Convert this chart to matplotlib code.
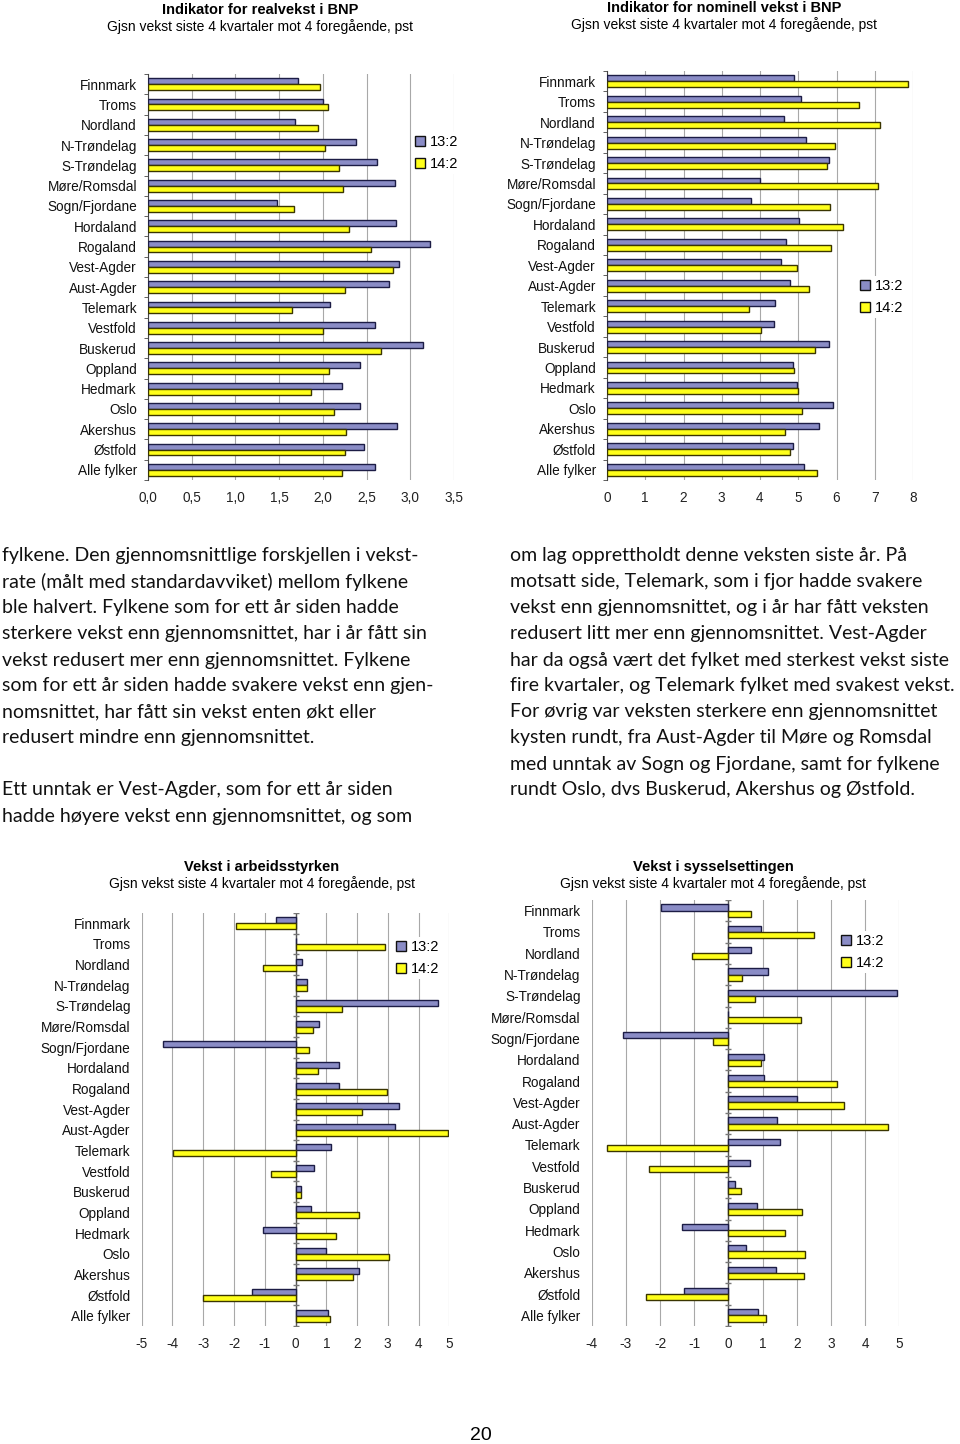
import numpy as np
import matplotlib
matplotlib.use("Agg")
import matplotlib.pyplot as plt
from matplotlib.patches import Patch

# --- Data ---
fylker = ["Finnmark", "Troms", "Nordland", "N-Trøndelag", "S-Trøndelag",
          "Møre/Romsdal", "Sogn/Fjordane", "Hordaland", "Rogaland", "Vest-Agder",
          "Aust-Agder", "Telemark", "Vestfold", "Buskerud", "Oppland", "Hedmark",
          "Oslo", "Akershus", "Østfold", "Alle fylker"]

series_names = ["13:2", "14:2"]

real_13 = [1.71, 2.00, 1.68, 2.38, 2.62, 2.82, 1.47, 2.84, 3.23, 2.87,
           2.76, 2.08, 2.60, 3.15, 2.43, 2.22, 2.42, 2.85, 2.47, 2.60]
real_14 = [1.97, 2.06, 1.94, 2.02, 2.18, 2.23, 1.67, 2.30, 2.55, 2.80,
           2.25, 1.65, 2.00, 2.66, 2.07, 1.87, 2.13, 2.27, 2.25, 2.22]

nom_13 = [4.90, 5.06, 4.62, 5.20, 5.81, 4.00, 3.77, 5.02, 4.67, 4.54,
          4.78, 4.38, 4.37, 5.81, 4.85, 4.97, 5.90, 5.53, 4.85, 5.14]
nom_14 = [7.88, 6.60, 7.15, 5.95, 5.75, 7.08, 5.84, 6.17, 5.86, 4.98,
          5.27, 3.70, 4.03, 5.45, 4.90, 5.00, 5.11, 4.65, 4.78, 5.49]

arb_13 = [-0.64, 0.0, 0.21, 0.37, 4.63, 0.75, -4.30, 1.41, 1.42, 3.35,
          3.25, 1.15, 0.61, 0.18, 0.52, -1.05, 1.00, 2.07, -1.40, 1.06]
arb_14 = [-1.93, 2.90, -1.05, 0.37, 1.52, 0.56, 0.44, 0.74, 2.99, 2.17,
          4.97, -3.98, -0.80, 0.18, 2.08, 1.33, 3.05, 1.88, -3.02, 1.11]

sys_13 = [-1.97, 0.94, 0.65, 1.17, 4.94, 0.0, -3.09, 1.05, 1.03, 2.01,
          1.43, 1.50, 0.64, 0.18, 0.83, -1.35, 0.51, 1.38, -1.29, 0.86]
sys_14 = [0.67, 2.49, -1.07, 0.39, 0.79, 2.11, -0.46, 0.96, 3.19, 3.37,
          4.68, -3.54, -2.32, 0.37, 2.16, 1.67, 2.25, 2.20, -2.42, 1.11]

subtitle = "Gjsn vekst siste 4 kvartaler mot 4 foregående, pst"

left_text = [
    "fylkene. Den gjennomsnittlige forskjellen i vekst-",
    "rate (målt med standardavviket) mellom fylkene",
    "ble halvert. Fylkene som for ett år siden hadde",
    "sterkere vekst enn gjennomsnittet, har i år fått sin",
    "vekst redusert mer enn gjennomsnittet. Fylkene",
    "som for ett år siden hadde svakere vekst enn gjen-",
    "nomsnittet, har fått sin vekst enten økt eller",
    "redusert mindre enn gjennomsnittet.",
    "",
    "Ett unntak er Vest-Agder, som for ett år siden",
    "hadde høyere vekst enn gjennomsnittet, og som",
]
right_text = [
    "om lag opprettholdt denne veksten siste år. På",
    "motsatt side, Telemark, som i fjor hadde svakere",
    "vekst enn gjennomsnittet, og i år har fått veksten",
    "redusert litt mer enn gjennomsnittet. Vest-Agder",
    "har da også vært det fylket med sterkest vekst siste",
    "fire kvartaler, og Telemark fylket med svakest vekst.",
    "For øvrig var veksten sterkere enn gjennomsnittet",
    "kysten rundt, fra Aust-Agder til Møre og Romsdal",
    "med unntak av Sogn og Fjordane, samt for fylkene",
    "rundt Oslo, dvs Buskerud, Akershus og Østfold.",
]

BLUE = "#8a8cc6"
BLUE_EDGE = "#1c1c45"
YELLOW = "#ffff1a"
YELLOW_EDGE = "#3a3500"
CHART_FONT = ["Liberation Sans", "DejaVu Sans"]
BODY_FONT = ["Lato", "DejaVu Sans"]

W, H = 960, 1444
fig = plt.figure(figsize=(W / 100, H / 100), dpi=100)


def px_axes(left, right, top, bottom):
    return fig.add_axes([left / W, 1 - bottom / H, (right - left) / W, (bottom - top) / H])


def bar_chart(ax, v13, v14, xlim, xticks, ticklabels, centered):
    n = len(fylker)
    y = np.arange(n)
    h = 0.29
    ax.barh(y - h / 2, v13, height=h, color=BLUE, edgecolor=BLUE_EDGE, linewidth=1.0, zorder=3)
    ax.barh(y + h / 2, v14, height=h, color=YELLOW, edgecolor=YELLOW_EDGE, linewidth=1.0, zorder=3)
    ax.set_ylim(n - 0.5, -0.5)
    ax.set_xlim(*xlim)
    ax.set_xticks(xticks)
    ax.set_xticklabels(ticklabels, fontsize=9.8, family=CHART_FONT, color="#222222")
    ax.tick_params(axis="x", length=0, pad=8)
    ax.xaxis.grid(True, color="#a8a8a8", linewidth=0.8, zorder=0)
    for s in ["top", "right", "bottom"]:
        ax.spines[s].set_visible(False)
    ax.set_yticks(y)
    ax.set_yticklabels(fylker, fontsize=9.8, family=CHART_FONT, color="#111111")
    ax.set_yticks(np.arange(n + 1) - 0.5, minor=True)
    ax.tick_params(axis="y", which="major", length=0, pad=8)
    if centered:
        ax.spines["left"].set_visible(False)
        ax.tick_params(axis="y", which="minor", length=0)
        ax.axvline(0, color="#555555", linewidth=1.0, zorder=2)
        ax.plot(np.zeros(n + 1), np.arange(n + 1) - 0.5, ls="none", marker="_",
                color="#777777", ms=4, zorder=2)
    else:
        ax.spines["left"].set_color("#444444")
        ax.tick_params(axis="y", which="minor", length=3, color="#444444")


def add_legend(ax, x, y):
    handles = [Patch(facecolor=BLUE, edgecolor="#111111", label=series_names[0]),
               Patch(facecolor=YELLOW, edgecolor="#111111", label=series_names[1])]
    ax.legend(handles=handles, loc="center left", bbox_to_anchor=(x / W, 1 - y / H),
              bbox_transform=fig.transFigure, frameon=True, facecolor="white",
              edgecolor="none", framealpha=1, borderpad=0.2, handlelength=0.7,
              handleheight=0.7, handletextpad=0.3, labelspacing=0.55,
              prop={"family": CHART_FONT, "size": 10.5})


def titles(cx, y1, y2, title):
    fig.text(cx / W, 1 - y1 / H, title, ha="center", va="center", fontsize=10.5,
             fontweight="bold", family=CHART_FONT)
    fig.text(cx / W, 1 - y2 / H, subtitle, ha="center", va="center", fontsize=10,
             family=CHART_FONT)


# --- Chart 1: real growth ---
ax1 = px_axes(148, 454, 74, 480)
t1 = np.arange(0, 3.51, 0.5)
bar_chart(ax1, real_13, real_14, (0, 3.5), t1, [f"{v:.1f}".replace(".", ",") for v in t1], False)
add_legend(ax1, 405, 153)
titles(260, 10, 27, "Indikator for realvekst i BNP")

# --- Chart 2: nominal growth ---
ax2 = px_axes(607, 913, 71, 480)
t2 = np.arange(0, 9)
bar_chart(ax2, nom_13, nom_14, (0, 8), t2, [str(v) for v in t2], False)
add_legend(ax2, 850, 297)
titles(724, 8, 25, "Indikator for nominell vekst i BNP")

# --- Chart 3: labour force ---
ax3 = px_axes(141.7, 449.3, 913, 1326)
t3 = np.arange(-5, 6)
bar_chart(ax3, arb_13, arb_14, (-5, 5), t3, [str(v) for v in t3], True)
add_legend(ax3, 386, 958)
titles(262, 867, 884, "Vekst i arbeidsstyrken")

# --- Chart 4: employment ---
ax4 = px_axes(591.7, 899.3, 900, 1326)
t4 = np.arange(-4, 6)
bar_chart(ax4, sys_13, sys_14, (-4, 5), t4, [str(v) for v in t4], True)
add_legend(ax4, 831, 952)
titles(713, 867, 884, "Vekst i sysselsettingen")

# --- Body text ---
for i, line in enumerate(left_text):
    fig.text(2 / W, 1 - (556 + 26 * i) / H, line, ha="left", va="center",
             fontsize=14, family=BODY_FONT, color="#111111")
for i, line in enumerate(right_text):
    fig.text(510 / W, 1 - (556 + 26 * i) / H, line, ha="left", va="center",
             fontsize=14, family=BODY_FONT, color="#111111")

fig.text(481 / W, 1 - 1436 / H, "20", ha="center", va="center", fontsize=14,
         family=CHART_FONT)

fig.savefig("out.png", dpi=100)
